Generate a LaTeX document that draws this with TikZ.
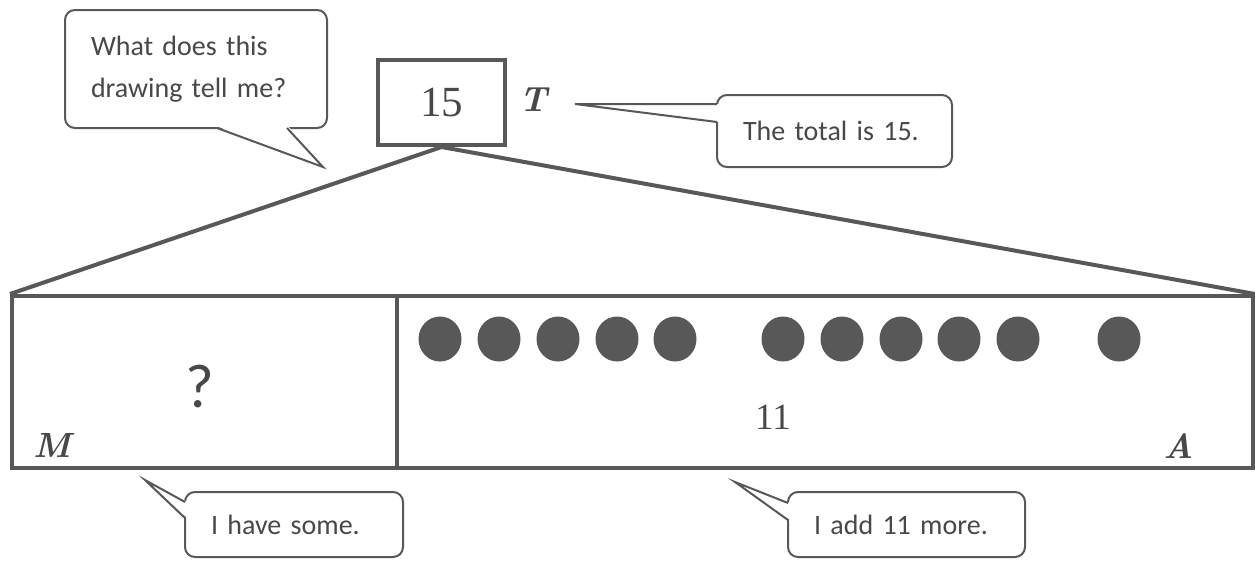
\documentclass[tikz,border=0pt]{standalone}
\usepackage{fontspec}
\newfontfamily\globofont{Carlito}
\newfontfamily\cifrafont{Liberation Serif}
\definecolor{tinta}{RGB}{88,88,88}
\definecolor{texto}{RGB}{72,72,72}

\begin{document}
\begin{tikzpicture}[
    x=1pt,
    y=-1pt,
    parte/.style={draw=tinta, line width=4pt, minimum height=172pt, inner sep=0pt},
    globo/.style={draw=tinta, line width=2pt, rounded corners=10pt, fill=white,
        text=texto, font=\globofont\fontsize{28}{42}\selectfont,
        align=left, inner xsep=26pt, inner ysep=0pt},
    cola/.style={draw=tinta, line width=2pt},
    letra/.style={font=\fontsize{35}{40}\selectfont\bfseries\itshape, text=texto},
    cifra/.style={font=\cifrafont\fontsize{#1}{#1}\selectfont, text=texto},
    punto/.style={fill=tinta}
]

\useasboundingbox (0,0) rectangle (1255,560);

% Total
\node[draw=tinta, line width=4pt, minimum width=127pt, minimum height=85pt,
    cifra=43] (total) at (441.5,102.5) {15};
\node[letra] (letraT) at (533,100) {T};

% Barra: parte M / parte A
\node[parte, minimum width=385pt] (parteM) at (204.5,382) {};
\node[parte, minimum width=856pt] (parteA) at (825,382) {};
\draw[tinta, line width=4pt] (parteM.north west) -- (total.south) -- (parteA.north east);

% Puntos (5 + 5 + 1)
\foreach \cx in {440,499,558,617,675,783,842,901,959,1018,1119}
    \fill[punto] (\cx,339) ellipse [x radius=21.5pt, y radius=22.5pt];

\node[text=texto, font=\globofont\fontsize{62}{70}\selectfont] (incognita) at (200,387) {?};
\node[cifra=37] (once) at (773,417) {11};
\node[letra] (letraM) at (52,445) {M};
\node[letra] (letraA) at (1179,446) {A};

% Globos
\node[globo, text width=210pt, minimum height=118pt] (globoQ) at (196,69)
    {What does this\\drawing tell me?};
\node[globo, text width=183pt, minimum height=72pt] (globoT) at (834.5,131)
    {The total is 15.};
\node[globo, text width=166pt, minimum height=65pt] (globoM) at (294,524.5)
    {I have some.};
\node[globo, text width=185pt, minimum height=65pt] (globoA) at (906.5,524.5)
    {I add 11 more.};

% Colas de los globos
\foreach \g/\ax/\ay/\bx/\by/\ix/\iy/\jx/\jy/\px/\py in {
    Q/217/128/287/128/216/126/288/126/323/167,
    T/717/104/717/122/719/104/719/122/575/104,
    M/185/502/185/518/187/502/187/518/145/480,
    A/788/503/788/520/790/503/790/520/735/482}
{
    \coordinate (base\g1) at (\ax,\ay);
    \coordinate (base\g2) at (\bx,\by);
    \coordinate (punta\g) at (\px,\py);
    \fill[white] (\ix,\iy) -- (punta\g) -- (\jx,\jy) -- cycle;
    \draw[cola] (base\g1) -- (punta\g) -- (base\g2);
}

\end{tikzpicture}
\end{document}
